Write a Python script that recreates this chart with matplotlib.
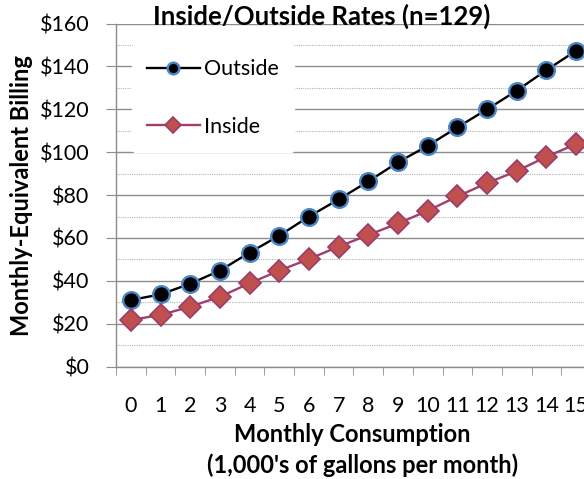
import matplotlib
matplotlib.use("Agg")
import matplotlib.pyplot as plt
from matplotlib.ticker import MultipleLocator, FixedLocator

plt.rcParams['font.family'] = ['Lato', 'DejaVu Sans']

categories = [str(i) for i in range(16)]
outside = [31.1, 33.7, 38.7, 44.8, 53.2, 61.1, 70.0, 78.0, 86.4, 95.3, 103.0, 111.6, 120.0, 128.7, 138.3, 147.3]
inside = [21.8, 24.1, 28.0, 32.6, 38.9, 44.8, 50.2, 56.0, 61.4, 66.8, 72.7, 79.4, 85.6, 91.2, 97.9, 103.8]
yticks = [0, 20, 40, 60, 80, 100, 120, 140, 160]
ytick_labels = ["$" + str(v) for v in yticks]

W, H = 584, 479
fig = plt.figure(figsize=(W / 100, H / 100), dpi=100)
fig.patch.set_facecolor('white')
ax_l, ax_r, ax_t, ax_b = 116, 591, 23.5, 366.7
ax = fig.add_axes([ax_l / W, 1 - ax_b / H, (ax_r - ax_l) / W, (ax_b - ax_t) / H])

x = list(range(len(categories)))
grid_c = '#8c8c8c'
ax.set_ylim(0, 160)
ax.set_xlim(-0.5, len(categories) - 0.5)
ax.yaxis.set_major_locator(FixedLocator(yticks))
ax.yaxis.set_minor_locator(MultipleLocator(10))
ax.set_yticklabels(ytick_labels)
ax.grid(axis='y', which='major', color=grid_c, linewidth=1.0, zorder=0)
ax.grid(axis='y', which='minor', color='#b4b4b4', linewidth=0.8, linestyle=(0, (1, 1)), zorder=0)
ax.set_axisbelow(True)

ax.set_xticks(x)
ax.set_xticklabels(categories)
ax.xaxis.set_minor_locator(FixedLocator([i - 0.5 for i in range(len(categories) + 1)]))
ax.tick_params(axis='x', which='major', length=0, pad=21, labelsize=15.5)
ax.tick_params(axis='x', which='minor', length=6, color=grid_c, direction='out')
ax.tick_params(axis='y', which='major', length=7, color=grid_c, labelsize=15.5, pad=12)
ax.tick_params(axis='y', which='minor', length=0)

for s in ['top', 'right']:
    ax.spines[s].set_visible(False)
for s in ['left', 'bottom']:
    ax.spines[s].set_color(grid_c)
    ax.spines[s].set_linewidth(1.0)

ax.plot(x, outside, color='black', linewidth=1.7, marker='o', markersize=12,
        markerfacecolor='black', markeredgecolor='#4A86C8', markeredgewidth=1.7,
        label='Outside', zorder=3, clip_on=False)
ax.plot(x, inside, color='#A0406A', linewidth=1.7, marker='D', markersize=11,
        markerfacecolor='#C0504D', markeredgecolor='#9B3B6B', markeredgewidth=1.2,
        label='Inside', zorder=3, clip_on=False)

leg = ax.legend(loc='upper left', bbox_to_anchor=((132 - ax_l) / (ax_r - ax_l), 1 - (44 - ax_t) / (ax_b - ax_t)),
                frameon=True, fontsize=15.5, handlelength=2.45, labelspacing=1.75,
                borderaxespad=0, borderpad=0.7, handletextpad=0.2, markerscale=0.7)
leg.get_frame().set_facecolor('white')
leg.get_frame().set_edgecolor('white')
leg.get_frame().set_alpha(1)

fig.text(322 / W, 1 - 16 / H, 'Inside/Outside Rates (n=129)', ha='center', va='center',
         fontsize=18.5, fontweight='bold')
fig.text(22 / W, 1 - 196 / H, 'Monthly-Equivalent Billing', ha='center', va='center',
         rotation=90, fontsize=17, fontweight='bold')
fig.text(352 / W, 1 - 434 / H, 'Monthly Consumption', ha='center', va='center',
         fontsize=17, fontweight='bold')
fig.text(363 / W, 1 - 465 / H, "(1,000's of gallons per month)", ha='center', va='center',
         fontsize=17, fontweight='bold')

fig.savefig('out.png', dpi=100)
